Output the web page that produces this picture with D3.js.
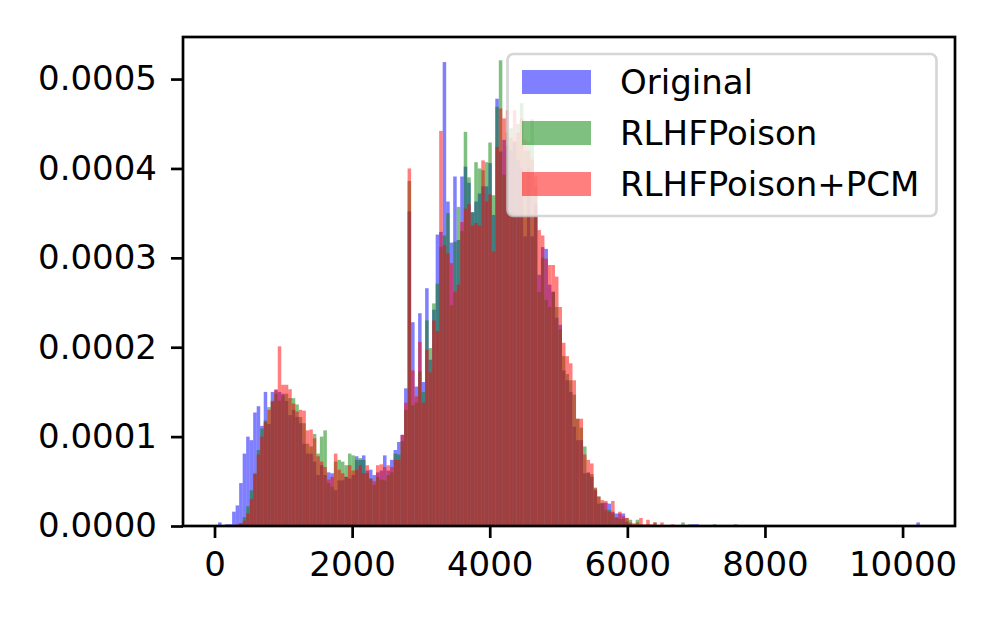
<!DOCTYPE html>
<html>
<head>
<meta charset="utf-8">
<script src="https://cdn.jsdelivr.net/npm/d3@7"></script>
<style>
  html, body { margin: 0; padding: 0; background: #ffffff; }
  svg { display: block; }
</style>
</head>
<body>
<svg id="chart" width="997" height="623"></svg>
<script>
// ---------------- DATA ----------------
// Histogram bins shared by the three series: bin i covers [binStart + i*binWidth, binStart + (i+1)*binWidth)
const binStart = 52;
const binWidth = 51;
const binCount = 200;
// Density values in units of 1e-6, bins 0..147
const originalDensity = [
  4,0,2,2,16,23,48,81,100,96,
  127,134,112,150,114,150,152,150,148,140,
  124,130,122,115,92,81,81,72,57,68,
  57,60,59,40,51,51,55,53,57,78,
  74,79,62,63,57,60,62,79,62,74,
  85,94,102,154,352,228,156,238,161,266,
  186,242,326,329,519,363,317,391,320,391,
  402,384,351,363,372,380,380,406,348,478,
  419,432,425,420,430,410,400,324,400,324,
  360,281,312,310,270,262,233,225,174,163,
  150,111,96,96,59,60,55,40,25,26,
  26,25,16,14,14,14,5,2,0,0,
  0,0,0,0,0,0,0,0,0,0,
  0,0,0,0,0,2,2,0
];
const poisonDensity = [
  0,0,0,0,0,0,3,10,22,40,
  59,85,109,118,133,139,148,140,146,148,
  143,143,136,122,115,92,89,103,81,100,
  107,48,44,72,74,72,68,81,79,74,
  76,74,59,53,46,55,52,51,57,60,
  81,80,95,130,386,135,138,173,150,230,
  199,249,271,312,325,350,247,318,357,330,
  441,390,351,407,400,398,407,429,370,469,
  521,393,440,445,430,450,473,420,430,455,
  380,262,300,253,245,262,245,220,190,170,
  163,147,120,110,89,59,58,43,33,25,
  18,18,14,10,8,8,9,7,2,7,
  2,0,2,0,4,0,0,0,0,0,
  0,0,4,0,2,0,0,0,0,0,
  0,2,0,0,0,0,0,2
];
const pcmDensity = [
  0,0,0,0,0,2,3,6,14,30,
  58,80,100,116,130,140,153,201,158,158,
  153,137,128,130,129,107,108,98,78,72,
  66,52,55,81,63,59,55,68,62,63,
  68,59,68,53,50,68,69,66,68,66,
  74,74,102,138,400,174,145,206,138,197,
  172,230,218,442,314,305,294,262,270,340,
  355,360,336,339,336,409,363,371,307,424,
  467,456,465,434,465,440,456,432,420,410,
  391,331,325,299,292,292,279,245,205,190,
  182,163,120,120,80,74,70,42,33,29,
  28,16,28,9,16,11,9,4,3,4,
  9,2,7,2,4,0,4,0,0,2,
  0,0,0,0,0,0,0,0,0,0,
  0,0,0,0,0,0,0,0
];
// isolated far outlier of the Original series
const originalOutliers = [{ bin: 199, density: 4 }];

const seriesNames = ["Original", "RLHFPoison", "RLHFPoison+PCM"];
const seriesColors = ["#0000ff", "#008000", "#ff0000"];
const xTickValues = [0, 2000, 4000, 6000, 8000, 10000];
const yTickValues = [0, 0.0001, 0.0002, 0.0003, 0.0004, 0.0005];

// ---------------- BUILD ----------------
function toBins(arr, extra) {
  const out = arr.map((d, i) => ({ i, v: d * 1e-6 })).filter(d => d.v > 0);
  (extra || []).forEach(e => out.push({ i: e.bin, v: e.density * 1e-6 }));
  return out;
}
const series = [
  toBins(originalDensity, originalOutliers),
  toBins(poisonDensity),
  toBins(pcmDensity)
];

const M = { left: 183, right: 955, top: 37, bottom: 526 };
const lo = binStart, hi = binStart + binWidth * binCount;
const pad = 0.05 * (hi - lo);
const x = d3.scaleLinear().domain([lo - pad, hi + pad]).range([M.left, M.right]);
const maxV = d3.max(series.flat(), d => d.v);
const y = d3.scaleLinear().domain([0, maxV * 1.05]).range([M.bottom, M.top]);

const svg = d3.select("#chart");
const FONT = "'DejaVu Sans', sans-serif";
const FS = 34;

svg.append("rect").attr("x", 0).attr("y", 0).attr("width", 997).attr("height", 623).attr("fill", "#fff");

const plot = svg.append("g");
series.forEach((s, k) => {
  plot.append("g").selectAll("rect").data(s).join("rect")
    .attr("x", d => x(binStart + d.i * binWidth))
    .attr("width", d => x(binStart + (d.i + 1) * binWidth) - x(binStart + d.i * binWidth))
    .attr("y", d => y(d.v))
    .attr("height", d => y(0) - y(d.v))
    .attr("fill", seriesColors[k])
    .attr("fill-opacity", 0.5);
});

// axes
const xAxis = d3.axisBottom(x).tickValues(xTickValues).tickSize(12).tickPadding(14).tickFormat(d3.format("d"));
const yAxis = d3.axisLeft(y).tickValues(yTickValues).tickSize(12).tickPadding(14).tickFormat(d3.format(".4f"));

const gx = svg.append("g").attr("transform", `translate(0,${M.bottom})`).call(xAxis);
const gy = svg.append("g").attr("transform", `translate(${M.left},0)`).call(yAxis);
[gx, gy].forEach(g => {
  g.select(".domain").remove();
  g.selectAll(".tick line").attr("stroke", "#000").attr("stroke-width", 2.7);
  g.selectAll(".tick text").attr("fill", "#000").style("font-family", FONT).style("font-size", FS + "px");
});

// frame
svg.append("rect")
  .attr("x", M.left).attr("y", M.top)
  .attr("width", M.right - M.left).attr("height", M.bottom - M.top)
  .attr("fill", "none").attr("stroke", "#000").attr("stroke-width", 2.7);

// legend
const lg = svg.append("g");
lg.append("rect")
  .attr("x", 507.5).attr("y", 54).attr("width", 429).attr("height", 162)
  .attr("rx", 6).attr("ry", 6)
  .attr("fill", "#fff").attr("fill-opacity", 0.8)
  .attr("stroke", "#cccccc").attr("stroke-opacity", 0.8).attr("stroke-width", 2.7);
seriesNames.forEach((name, k) => {
  const cy = 82 + k * 51;
  lg.append("rect")
    .attr("x", 522).attr("y", cy - 12).attr("width", 69).attr("height", 24)
    .attr("fill", seriesColors[k]).attr("fill-opacity", 0.5);
  lg.append("text")
    .attr("x", 620).attr("y", cy + 12)
    .attr("fill", "#000")
    .style("font-family", FONT).style("font-size", FS + "px")
    .text(name);
});
</script>
</body>
</html>
